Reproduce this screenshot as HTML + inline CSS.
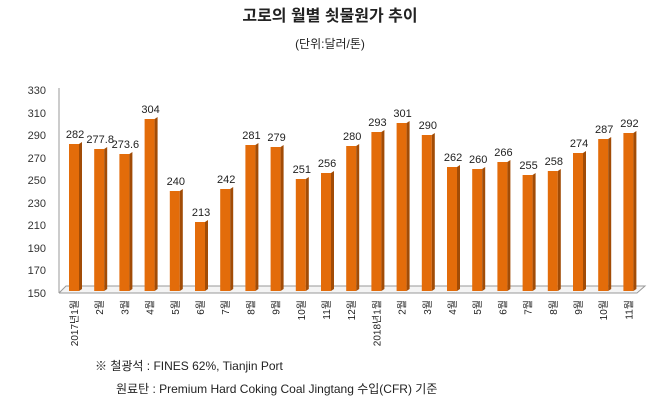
<!DOCTYPE html>
<html><head><meta charset="utf-8"><style>
body{margin:0;background:#fff;width:660px;height:401px;overflow:hidden}
.f{fill:#e36c0a}.s{fill:#a24c06}.v{font-size:11px;fill:#222;text-anchor:middle}.l{font-size:10px;fill:#222;text-anchor:end}
</style></head><body>
<svg width="660" height="401" xmlns="http://www.w3.org/2000/svg" font-family="Liberation Sans, Noto Sans CJK KR, sans-serif">
<text x="330" y="21" text-anchor="middle" font-size="16" font-weight="bold" fill="#222">고로의 월별 쇳물원가 추이</text>
<text x="330" y="48" text-anchor="middle" font-size="12" fill="#222">(단위:달러/톤)</text>
<g font-size="11" fill="#333" text-anchor="end">
<text x="46" y="94">330</text><text x="46" y="117">310</text><text x="46" y="139">290</text><text x="46" y="162">270</text><text x="46" y="184">250</text><text x="46" y="207">230</text><text x="46" y="229">210</text><text x="46" y="252">190</text><text x="46" y="274">170</text><text x="46" y="297">150</text>
</g>
<line x1="59" y1="88" x2="59" y2="293" stroke="#999"/>
<polyline points="59,293 66,286 645,286 637,293 59,293" fill="#f4f4f4" stroke="#999"/>

<g transform="translate(69,0)"><rect class="f" y="144" width="10" height="147"/><polygon class="s" points="10,144 13,142 13,289 10,291"/><text class="v" x="6" y="138">282</text><text class="l" transform="translate(9,300) rotate(-90)">2017년1월</text></g>
<g transform="translate(94.2,0)"><rect class="f" y="149" width="10" height="142"/><polygon class="s" points="10,149 13,147 13,289 10,291"/><text class="v" x="6" y="143">277.8</text><text class="l" transform="translate(9,300) rotate(-90)">2월</text></g>
<g transform="translate(119.4,0)"><rect class="f" y="154" width="10" height="137"/><polygon class="s" points="10,154 13,152 13,289 10,291"/><text class="v" x="6" y="148">273.6</text><text class="l" transform="translate(9,300) rotate(-90)">3월</text></g>
<g transform="translate(144.6,0)"><rect class="f" y="119" width="10" height="172"/><polygon class="s" points="10,119 13,117 13,289 10,291"/><text class="v" x="6" y="113">304</text><text class="l" transform="translate(9,300) rotate(-90)">4월</text></g>
<g transform="translate(169.8,0)"><rect class="f" y="191" width="10" height="100"/><polygon class="s" points="10,191 13,189 13,289 10,291"/><text class="v" x="6" y="185">240</text><text class="l" transform="translate(9,300) rotate(-90)">5월</text></g>
<g transform="translate(195,0)"><rect class="f" y="222" width="10" height="69"/><polygon class="s" points="10,222 13,220 13,289 10,291"/><text class="v" x="6" y="216">213</text><text class="l" transform="translate(9,300) rotate(-90)">6월</text></g>
<g transform="translate(220.2,0)"><rect class="f" y="189" width="10" height="102"/><polygon class="s" points="10,189 13,187 13,289 10,291"/><text class="v" x="6" y="183">242</text><text class="l" transform="translate(9,300) rotate(-90)">7월</text></g>
<g transform="translate(245.4,0)"><rect class="f" y="145" width="10" height="146"/><polygon class="s" points="10,145 13,143 13,289 10,291"/><text class="v" x="6" y="139">281</text><text class="l" transform="translate(9,300) rotate(-90)">8월</text></g>
<g transform="translate(270.6,0)"><rect class="f" y="147" width="10" height="144"/><polygon class="s" points="10,147 13,145 13,289 10,291"/><text class="v" x="6" y="141">279</text><text class="l" transform="translate(9,300) rotate(-90)">9월</text></g>
<g transform="translate(295.8,0)"><rect class="f" y="179" width="10" height="112"/><polygon class="s" points="10,179 13,177 13,289 10,291"/><text class="v" x="6" y="173">251</text><text class="l" transform="translate(9,300) rotate(-90)">10월</text></g>
<g transform="translate(321,0)"><rect class="f" y="173" width="10" height="118"/><polygon class="s" points="10,173 13,171 13,289 10,291"/><text class="v" x="6" y="167">256</text><text class="l" transform="translate(9,300) rotate(-90)">11월</text></g>
<g transform="translate(346.2,0)"><rect class="f" y="146" width="10" height="145"/><polygon class="s" points="10,146 13,144 13,289 10,291"/><text class="v" x="6" y="140">280</text><text class="l" transform="translate(9,300) rotate(-90)">12월</text></g>
<g transform="translate(371.4,0)"><rect class="f" y="132" width="10" height="159"/><polygon class="s" points="10,132 13,130 13,289 10,291"/><text class="v" x="6" y="126">293</text><text class="l" transform="translate(9,300) rotate(-90)">2018년1월</text></g>
<g transform="translate(396.6,0)"><rect class="f" y="123" width="10" height="168"/><polygon class="s" points="10,123 13,121 13,289 10,291"/><text class="v" x="6" y="117">301</text><text class="l" transform="translate(9,300) rotate(-90)">2월</text></g>
<g transform="translate(421.8,0)"><rect class="f" y="135" width="10" height="156"/><polygon class="s" points="10,135 13,133 13,289 10,291"/><text class="v" x="6" y="129">290</text><text class="l" transform="translate(9,300) rotate(-90)">3월</text></g>
<g transform="translate(447,0)"><rect class="f" y="167" width="10" height="124"/><polygon class="s" points="10,167 13,165 13,289 10,291"/><text class="v" x="6" y="161">262</text><text class="l" transform="translate(9,300) rotate(-90)">4월</text></g>
<g transform="translate(472.2,0)"><rect class="f" y="169" width="10" height="122"/><polygon class="s" points="10,169 13,167 13,289 10,291"/><text class="v" x="6" y="163">260</text><text class="l" transform="translate(9,300) rotate(-90)">5월</text></g>
<g transform="translate(497.4,0)"><rect class="f" y="162" width="10" height="129"/><polygon class="s" points="10,162 13,160 13,289 10,291"/><text class="v" x="6" y="156">266</text><text class="l" transform="translate(9,300) rotate(-90)">6월</text></g>
<g transform="translate(522.6,0)"><rect class="f" y="175" width="10" height="116"/><polygon class="s" points="10,175 13,173 13,289 10,291"/><text class="v" x="6" y="169">255</text><text class="l" transform="translate(9,300) rotate(-90)">7월</text></g>
<g transform="translate(547.8,0)"><rect class="f" y="171" width="10" height="120"/><polygon class="s" points="10,171 13,169 13,289 10,291"/><text class="v" x="6" y="165">258</text><text class="l" transform="translate(9,300) rotate(-90)">8월</text></g>
<g transform="translate(573,0)"><rect class="f" y="153" width="10" height="138"/><polygon class="s" points="10,153 13,151 13,289 10,291"/><text class="v" x="6" y="147">274</text><text class="l" transform="translate(9,300) rotate(-90)">9월</text></g>
<g transform="translate(598.2,0)"><rect class="f" y="139" width="10" height="152"/><polygon class="s" points="10,139 13,137 13,289 10,291"/><text class="v" x="6" y="133">287</text><text class="l" transform="translate(9,300) rotate(-90)">10월</text></g>
<g transform="translate(623.4,0)"><rect class="f" y="133" width="10" height="158"/><polygon class="s" points="10,133 13,131 13,289 10,291"/><text class="v" x="6" y="127">292</text><text class="l" transform="translate(9,300) rotate(-90)">11월</text></g>

<text x="95" y="370" font-size="12" fill="#222">※ 철광석 : FINES 62%, Tianjin Port</text>
<text x="116" y="393" font-size="12" fill="#222">원료탄 : Premium Hard Coking Coal  Jingtang  수입(CFR) 기준</text>
</svg>
</body></html>
